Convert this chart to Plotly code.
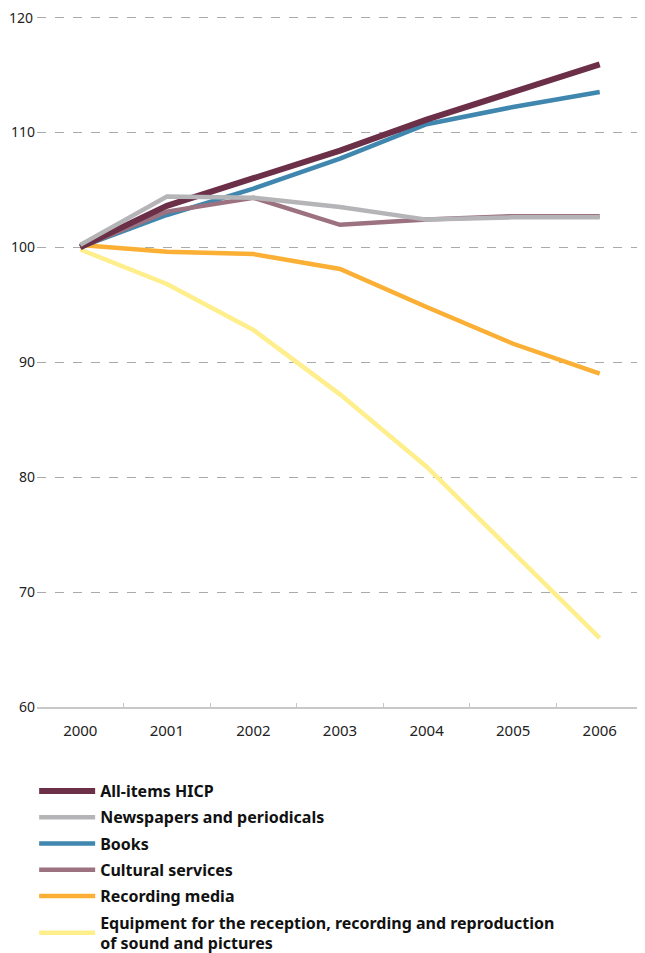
import plotly.graph_objects as go

years = ["2000", "2001", "2002", "2003", "2004", "2005", "2006"]

all_items = [100.0, 103.6, 106.0, 108.4, 111.1, 113.5, 115.9]
newspapers = [100.2, 104.4, 104.3, 103.5, 102.4, 102.6, 102.6]
books = [100.0, 102.8, 105.1, 107.7, 110.7, 112.2, 113.5]
cultural = [100.0, 103.1, 104.3, 101.95, 102.4, 102.7, 102.7]
recording = [100.2, 99.6, 99.4, 98.1, 94.8, 91.6, 89.0]
equipment = [99.8, 96.8, 92.8, 87.2, 80.9, 73.5, 66.0]

y_ticks = [60, 70, 80, 90, 100, 110, 120]

names = ["All-items HICP", "Newspapers and periodicals", "Books", "Cultural services",
         "Recording media", "Equipment for the reception, recording and reproduction<br>of sound and pictures"]
colors = ["#6B2F47", "#B5B5B7", "#3F87AF", "#9C7280", "#FBAF34", "#FFEE8C"]
widths = [6, 4.5, 4.5, 4.5, 4.5, 4.5]
series = [all_items, newspapers, books, cultural, recording, equipment]
draw_order = [5, 4, 2, 3, 0, 1]

fig = go.Figure()
for i in draw_order:
    fig.add_trace(go.Scatter(
        x=years, y=series[i], mode="lines", name=names[i],
        line=dict(color=colors[i], width=widths[i]),
        legendrank=i + 1, legendgroup=str(i),
    ))

# top tick label (the axis drops it because it touches the top edge)
fig.add_annotation(
    x=0, xref="paper", xanchor="right", xshift=-2,
    y=y_ticks[-1], yref="y", yanchor="middle",
    text=str(y_ticks[-1]), showarrow=False,
    font=dict(family="Noto Sans", size=14, color="#222222"),
)

fig.update_layout(
    width=637, height=953,
    margin=dict(l=29, r=2, t=7, b=253),
    paper_bgcolor="white", plot_bgcolor="white",
    font=dict(family="Noto Sans", size=14, color="#222222"),
    showlegend=True,
    legend=dict(
        x=-0.0047, xanchor="left", y=-253 / 693, yanchor="bottom",
        font=dict(family="Noto Sans", size=16, color="#111111", weight="bold"),
        tracegroupgap=2.5, traceorder="grouped", itemwidth=56,
        bgcolor="rgba(0,0,0,0)",
    ),
    xaxis=dict(
        type="category", range=[-0.5, 6.5], showgrid=False, showline=True,
        linecolor="#C8C8C8", linewidth=1.5, automargin=False,
        ticks="inside", tickson="boundaries", ticklen=4, tickcolor="#C8C8C8",
        tickfont=dict(size=15), ticklabelstandoff=9, fixedrange=True,
    ),
    yaxis=dict(
        range=[60, 120.2], tickmode="array", tickvals=y_ticks,
        ticktext=[str(v) for v in y_ticks[:-1]] + [""],
        showgrid=True, gridcolor="#AAAAAA", griddash="dash",
        gridwidth=1, zeroline=False, showline=False, ticks="", ticklabelstandoff=1,
        tickfont=dict(size=14), fixedrange=True, automargin=False,
    ),
)

fig.write_html("out.html")
